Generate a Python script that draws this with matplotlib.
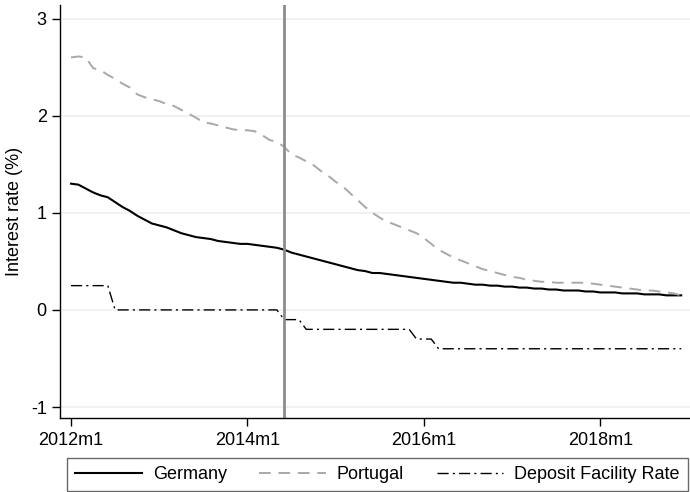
import numpy as np
import matplotlib
matplotlib.use("Agg")
import matplotlib.pyplot as plt

plt.rcParams["font.family"] = ["Liberation Sans", "DejaVu Sans"]

# months since 2012m1 (0 = 2012m1 ... 83 = 2018m12)
meses = np.arange(84)

germany = [
    1.30, 1.29, 1.25, 1.21, 1.18, 1.16, 1.11, 1.06, 1.02, 0.97, 0.93, 0.89,
    0.87, 0.85, 0.82, 0.79, 0.77, 0.75, 0.74, 0.73, 0.71, 0.70, 0.69, 0.68,
    0.68, 0.67, 0.66, 0.65, 0.64, 0.62, 0.59, 0.57, 0.55, 0.53, 0.51, 0.49,
    0.47, 0.45, 0.43, 0.41, 0.40, 0.38, 0.38, 0.37, 0.36, 0.35, 0.34, 0.33,
    0.32, 0.31, 0.30, 0.29, 0.28, 0.28, 0.27, 0.26, 0.26, 0.25, 0.25, 0.24,
    0.24, 0.23, 0.23, 0.22, 0.22, 0.21, 0.21, 0.20, 0.20, 0.20, 0.19, 0.19,
    0.18, 0.18, 0.18, 0.17, 0.17, 0.17, 0.16, 0.16, 0.16, 0.15, 0.15, 0.15,
]

portugal = [
    2.60, 2.61, 2.60, 2.49, 2.47, 2.42, 2.38, 2.33, 2.29, 2.22, 2.19, 2.17,
    2.15, 2.12, 2.10, 2.06, 2.02, 1.98, 1.93, 1.92, 1.90, 1.88, 1.86, 1.85,
    1.85, 1.84, 1.80, 1.75, 1.73, 1.68, 1.60, 1.57, 1.53, 1.49, 1.43, 1.38,
    1.32, 1.27, 1.20, 1.13, 1.06, 1.00, 0.95, 0.91, 0.88, 0.85, 0.82, 0.79,
    0.74, 0.68, 0.62, 0.58, 0.54, 0.51, 0.48, 0.45, 0.42, 0.40, 0.38, 0.36,
    0.34, 0.33, 0.31, 0.30, 0.29, 0.29, 0.28, 0.28, 0.28, 0.28, 0.28, 0.27,
    0.26, 0.25, 0.24, 0.23, 0.22, 0.21, 0.20, 0.20, 0.19, 0.18, 0.17, 0.15,
]

dfr = (
    [0.25] * 6 + [0.0] * 23 + [-0.10] * 3 + [-0.20] * 15
    + [-0.30] * 3 + [-0.40] * 34
)

tick_pos = [0, 24, 48, 72]
tick_lab = ["2012m1", "2014m1", "2016m1", "2018m1"]
evento = 29  # 2014m6

fig = plt.figure(figsize=(6.9, 4.92), dpi=100)
ax = fig.add_axes([60 / 690, 1 - 418 / 492, 630 / 690, 413 / 492])

ax.set_axisbelow(True)
ax.grid(axis="y", color="#eaf0f4", linewidth=1.2)
ax.grid(axis="x", visible=False)

ax.plot(meses, germany, color="black", linewidth=1.5, label="Germany")
ax.plot(meses, portugal, color="#a8a8a8", linewidth=1.4, dashes=(6, 4),
        label="Portugal")
ax.plot(meses, dfr, color="black", linewidth=1.0, dashes=(8, 3, 1.5, 3),
        label="Deposit Facility Rate")
ax.axvline(evento, color="#8c8c8c", linewidth=2.0)

ax.set_xlim(-1.5, 84.2)
ax.set_ylim(-1.113, 3.14)
ax.set_xticks(tick_pos)
ax.set_xticklabels(tick_lab)
ax.set_yticks([-1, 0, 1, 2, 3])
ax.set_yticklabels(["-1", "0", "1", "2", "3"])
ax.tick_params(axis="both", direction="out", length=6, width=1,
               labelsize=13, colors="black")
ax.tick_params(axis="x", pad=4)
ax.set_ylabel("Interest rate (%)", fontsize=13, labelpad=6)

for lado in ["top", "right"]:
    ax.spines[lado].set_visible(False)
for lado in ["left", "bottom"]:
    ax.spines[lado].set_linewidth(1.0)
    ax.spines[lado].set_color("black")

leg = fig.legend(
    loc="lower left",
    bbox_to_anchor=(67 / 690, 1 / 492),
    ncol=3,
    fontsize=13,
    frameon=True,
    fancybox=False,
    handlelength=3.7,
    handletextpad=0.6,
    columnspacing=1.8,
    borderaxespad=0,
    borderpad=0.45,
)
leg.get_frame().set_edgecolor("#444444")
leg.get_frame().set_linewidth(1.0)

fig.savefig("out.png", dpi=100)
